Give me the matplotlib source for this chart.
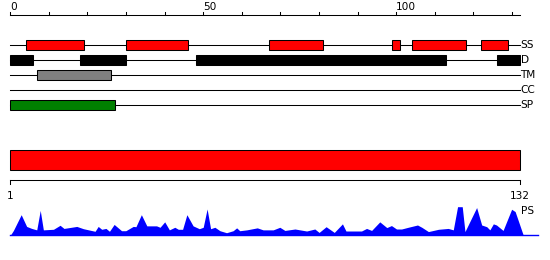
import matplotlib
matplotlib.use("Agg")
import matplotlib.pyplot as plt

# residue ranges per track (start, end)
seq_len = 132
ss_regions = [(4, 19), (30, 46), (67, 81), (99, 101), (104, 118), (122, 129)]
d_regions = [(0, 6), (18, 30), (48, 113), (126, 132)]
tm_regions = [(7, 26)]
cc_regions = []
sp_regions = [(0, 27)]

track_names = ["SS", "D", "TM", "CC", "SP"]
track_colors = ["#ff0000", "#000000", "#808080", "#000000", "#008000"]
tracks = [ss_regions, d_regions, tm_regions, cc_regions, sp_regions]

top_ticks = list(range(0, 131, 10))
top_labels = [0, 50, 100]

# PS profile points (position, relative score)
ps_pos = [1.0, 1.8, 3.8, 5.2, 6.5, 7.8, 8.7, 9.5, 12.1, 13.8,
          14.8, 18.1, 19.8, 22.8, 23.6, 24.5, 25.6, 26.5, 27.7, 29.6,
          30.7, 32.6, 33.3, 34.7, 36.1, 38.6, 39.5, 40.7, 41.9, 43.3,
          44.2, 45.3, 46.4, 48.0, 49.6, 50.6, 51.6, 52.5, 53.6, 54.9,
          56.6, 58.3, 59.2, 60.0, 61.8, 64.5, 66.0, 68.6, 70.3, 71.6,
          74.2, 77.2, 79.3, 80.4, 82.2, 84.3, 86.4, 87.3, 91.3, 92.6,
          93.9, 96.0, 97.8, 99.0, 100.3, 101.6, 103.3, 105.7, 106.8, 108.5,
          111.1, 113.6, 114.9, 116.0, 117.2, 117.9, 120.9, 122.2, 123.5, 124.3,
          125.2, 126.0, 127.7, 129.9, 130.8, 132.9]
ps_val = [0, 0.17, 0.72, 0.31, 0.24, 0.19, 0.87, 0.19, 0.21, 0.35,
          0.24, 0.31, 0.23, 0.14, 0.31, 0.21, 0.24, 0.14, 0.38, 0.16,
          0.16, 0.31, 0.30, 0.72, 0.33, 0.33, 0.28, 0.47, 0.19, 0.28,
          0.21, 0.21, 0.72, 0.33, 0.23, 0.28, 0.92, 0.23, 0.28, 0.16,
          0.09, 0.16, 0.26, 0.16, 0.19, 0.26, 0.19, 0.19, 0.28, 0.17,
          0.22, 0.15, 0.22, 0.10, 0.30, 0.10, 0.40, 0.15, 0.15, 0.24,
          0.17, 0.47, 0.27, 0.34, 0.22, 0.22, 0.28, 0.36, 0.28, 0.13,
          0.21, 0.24, 0.19, 1.0, 1.0, 0.13, 0.97, 0.36, 0.30, 0.19,
          0.40, 0.36, 0.17, 0.91, 0.83, 0]

W, H = 550, 260
px = 3.86          # pixels per residue in top part
x0 = 10.3          # pixel of residue 0
lw = 0.75
fs = 7.6

fig = plt.figure(figsize=(W / 100, H / 100), dpi=100)

# top: tracks, y in pixels from top
ax = fig.add_axes([0, 0, 1, 1])
ax.set_xlim(-x0 / px, (W - x0) / px)
ax.set_ylim(H, 0)
ax.axis("off")

ax.plot([0, seq_len], [15, 15], color="black", lw=lw)
for t in top_ticks:
    ax.plot([t, t], [12, 15], color="black", lw=lw)
for t in top_labels:
    ax.text(t, 10, str(t), ha="left", va="baseline", fontsize=fs)

for i, (name, col, regs) in enumerate(zip(track_names, track_colors, tracks)):
    y = 45 + 15 * i
    ax.plot([0, seq_len], [y, y], color="black", lw=lw, zorder=1)
    for s, e in regs:
        ax.barh(y, e - s, left=s, height=10, color=col, edgecolor="black",
                linewidth=lw, zorder=2)
    ax.text(seq_len + 0.2, y, name, ha="left", va="center", fontsize=fs)

# bottom: full length bar and scale (1..132)
bx = (519.8 - x0) / (seq_len - 1)
ax2 = fig.add_axes([0, 0, 1, 1])
ax2.patch.set_alpha(0)
ax2.set_xlim(1 - x0 / bx, 1 + (W - x0) / bx)
ax2.set_ylim(H, 0)
ax2.axis("off")
ax2.barh(160.3, seq_len - 1, left=1, height=20, color="#ff0000",
         edgecolor="black", linewidth=lw)
ax2.plot([1, seq_len], [180.3, 180.3], color="black", lw=lw)
for t in [1, seq_len]:
    ax2.plot([t, t], [180.3, 184.3], color="black", lw=lw)
    ax2.text(t, 196, str(t), ha="center", va="center", fontsize=fs)
ax2.text(seq_len + 0.4, 211, "PS", ha="left", va="center", fontsize=fs)

# PS profile
ax3 = fig.add_axes([0, (H - 235.3) / H, 1, 28.6 / H])
ax3.patch.set_alpha(0)
ax3.set_xlim(ax2.get_xlim())
ax3.set_ylim(0, 1)
ax3.axis("off")
ax3.fill_between(ps_pos, ps_val, 0, color="#0000ff", lw=0, clip_on=False)
ax3.axhline(0, xmin=x0 / W, xmax=538 / W, color="#0000ff", lw=1, clip_on=False)

fig.savefig("out.png", dpi=100)
